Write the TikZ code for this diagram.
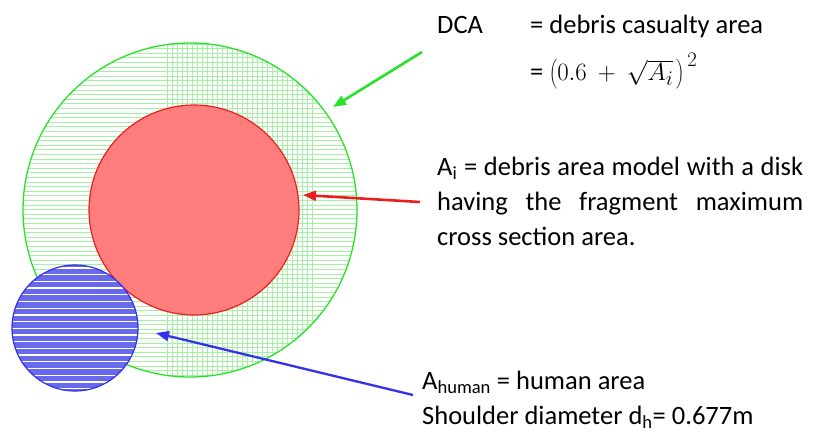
\documentclass[tikz,border=0pt]{standalone}
\usepackage{fontspec}
\setmainfont{Carlito}
\usetikzlibrary{arrows.meta}
\definecolor{lgreen}{RGB}{40,225,40}
\definecolor{hgreen}{RGB}{165,240,165}
\definecolor{salmon}{RGB}{255,125,125}
\definecolor{rline}{RGB}{235,30,30}
\definecolor{bfill}{RGB}{105,105,235}
\definecolor{bline}{RGB}{50,50,235}
\tikzset{
  ring/.style={circle, inner sep=0pt, draw=lgreen, line width=1.3pt},
  core/.style={circle, inner sep=0pt, fill=salmon, draw=rline, line width=1.2pt},
  human/.style={circle, inner sep=0pt, draw=bline, line width=1.2pt},
  hatch/.style={hgreen, line width=0.8pt},
  txt/.style={inner sep=0pt, font=\fontsize{26.5}{35}\selectfont},
  pointer/.style={line width=2.6pt, -{Triangle[length=13pt,width=10pt]}}
}
\begin{document}
\hyphenpenalty=10000 \exhyphenpenalty=10000 \tolerance=9999 \hbadness=10000 \hfuzz=20pt
\begin{tikzpicture}[x=1pt,y=-1pt]
\useasboundingbox (0,0) rectangle (813,432);
% green hatching
\begin{scope}
  \clip (190,210) circle (167pt);
  \foreach \y in {44,48.6,...,380} \draw[hatch] (20,\y) -- (360,\y);
  \foreach \x in {167,172,...,316} \draw[hatch] (\x,40) -- (\x,380);
\end{scope}
\node[ring, minimum size=334pt] (dca) at (190,210) {};
\node[core, minimum size=210pt] (ai) at (194,210) {};
% human disk
\fill[bfill] (75,328) circle (63pt);
\begin{scope}
  \clip (75,328) circle (63pt);
  \foreach \y in {268,274.7,...,392} \draw[white, line width=1.3pt] (10,\y) -- (140,\y);
\end{scope}
\node[human, minimum size=126pt] (hum) at (75,328) {};
% texts
\node[txt, anchor=base west] (dcal) at (437,33) {DCA};
\node[txt, anchor=base west] (dcad) at (530,33) {= debris casualty area};
\node[txt, anchor=base west] (dcaf) at (530,80) {= {\fontsize{29}{35}\selectfont$\left(0.6\mkern4mu+\mkern4mu\sqrt{A_i}\mkern2mu\right)^{\mkern3mu 2}$}};
\node[txt, anchor=base west, text width=366pt, align=justify] (ait) at (437,175)
  {A\textsubscript{i} = debris area model with a disk having the fragment maximum cross section area.};
\node[txt, anchor=base west] (hum1) at (422,389) {A\textsubscript{human} = human area};
\node[txt, anchor=base west] (hum2) at (422,424) {Shoulder diameter d\textsubscript{h}= 0.677m};
% arrows
\coordinate (gs) at (422,52);
\coordinate (gt) at (333,107);
\coordinate (rs) at (420,202);
\coordinate (rt) at (303,195);
\coordinate (bs) at (413,395);
\coordinate (bt) at (156,333);
\draw[pointer, lgreen] (gs) -- (gt);
\draw[pointer, rline] (rs) -- (rt);
\draw[pointer, bline, line width=2.3pt] (bs) -- (bt);
\end{tikzpicture}
\end{document}
